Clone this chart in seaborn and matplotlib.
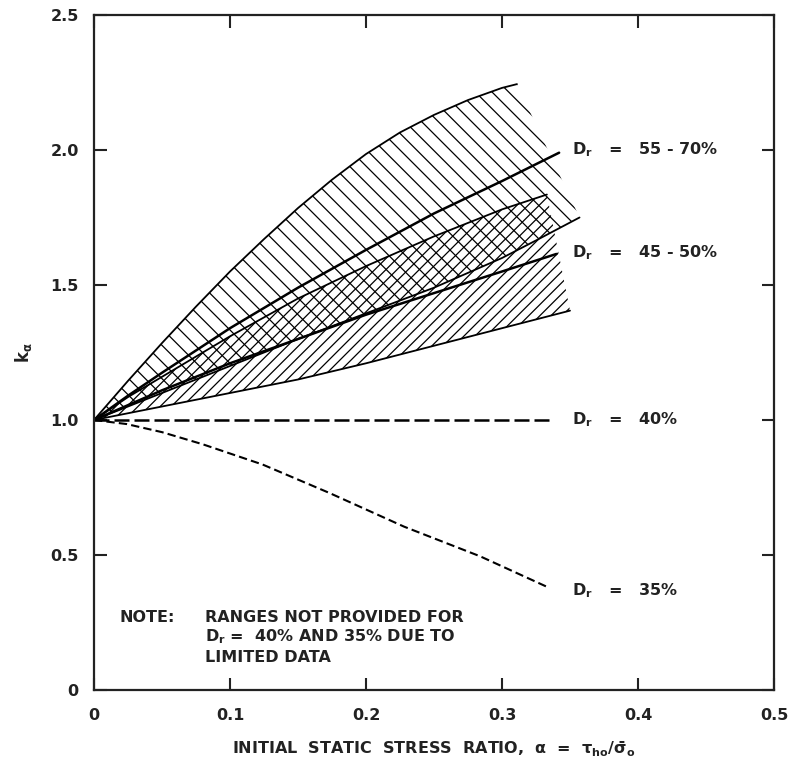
import numpy as np
import pandas as pd
import matplotlib
matplotlib.use("Agg")
import matplotlib.pyplot as plt
import seaborn as sns

# ---------------- data ----------------
# Dr = 55 - 70 % band
u1_x = [0.0, 0.025, 0.05, 0.075, 0.10, 0.125, 0.15, 0.175, 0.20, 0.225, 0.25, 0.275, 0.30, 0.311]
u1_y = [1.0, 1.145, 1.285, 1.42, 1.55, 1.67, 1.785, 1.89, 1.985, 2.065, 2.13, 2.185, 2.23, 2.244]
m1_x = [0.0, 0.025, 0.05, 0.10, 0.15, 0.20, 0.25, 0.30, 0.342]
m1_y = [1.0, 1.09, 1.175, 1.34, 1.49, 1.63, 1.765, 1.885, 1.99]
l1_x = [0.0, 0.05, 0.10, 0.15, 0.20, 0.25, 0.30, 0.325, 0.357]
l1_y = [1.0, 1.10, 1.20, 1.30, 1.395, 1.49, 1.60, 1.665, 1.75]

# Dr = 45 - 50 % band
u2_x = [0.0, 0.025, 0.05, 0.10, 0.15, 0.20, 0.25, 0.30, 0.333]
u2_y = [1.0, 1.085, 1.16, 1.31, 1.45, 1.57, 1.68, 1.78, 1.835]
m2_x = [0.0, 0.05, 0.10, 0.15, 0.20, 0.25, 0.30, 0.34]
m2_y = [1.0, 1.11, 1.21, 1.30, 1.39, 1.47, 1.55, 1.615]
l2_x = [0.0, 0.05, 0.10, 0.15, 0.20, 0.25, 0.30, 0.35]
l2_y = [1.0, 1.05, 1.10, 1.15, 1.21, 1.275, 1.34, 1.405]

# Dr = 40 % and 35 % (single curves)
d40_x = [0.0, 0.336]
d40_y = [1.0, 1.0]
d35_x = [0.0, 0.024, 0.05, 0.08, 0.124, 0.173, 0.228, 0.284, 0.334]
d35_y = [1.0, 0.985, 0.955, 0.91, 0.835, 0.73, 0.605, 0.495, 0.38]

x_ticks = [0, 0.1, 0.2, 0.3, 0.4, 0.5]
x_tick_labels = ["0", "0.1", "0.2", "0.3", "0.4", "0.5"]
y_ticks = [0, 0.5, 1.0, 1.5, 2.0, 2.5]
y_tick_labels = ["0", "0.5", "1.0", "1.5", "2.0", "2.5"]

band_labels = [r"D$_\mathregular{r}$   =   55 - 70%", r"D$_\mathregular{r}$   =   45 - 50%",
               r"D$_\mathregular{r}$   =   40%", r"D$_\mathregular{r}$   =   35%"]
band_label_y = [2.0, 1.62, 1.0, 0.367]

note_lines = ["RANGES NOT PROVIDED FOR",
              r"D$_\mathregular{r}$ =  40% AND 35% DUE TO",
              "LIMITED DATA"]

# ---------------- style ----------------
sns.set_theme(style="ticks")
plt.rcParams['font.family'] = ['DejaVu Sans']
plt.rcParams['font.weight'] = 'bold'
plt.rcParams['mathtext.default'] = 'regular'
plt.rcParams['hatch.linewidth'] = 0.9
plt.rcParams['hatch.color'] = 'black'

TXT = '#222222'

fig = plt.figure(figsize=(7.93, 7.61), dpi=100)
fig.patch.set_facecolor('white')
ax = fig.add_axes([94 / 793, 1 - 690 / 761, (774 - 94) / 793, (690 - 15) / 761])
ax.set_facecolor('white')

# hatched bands (overlap gives the cross-hatching)
ax.fill(u1_x + l1_x[::-1], u1_y + l1_y[::-1], facecolor='none',
        edgecolor='black', hatch='\\\\', linewidth=0)
ax.fill(u2_x + l2_x[::-1], u2_y + l2_y[::-1], facecolor='none',
        edgecolor='black', hatch='///', linewidth=0)

# boundary and mean lines
for xs, ys, lw in [(u1_x, u1_y, 1.3), (l1_x, l1_y, 1.3), (m1_x, m1_y, 1.8),
                   (u2_x, u2_y, 1.3), (l2_x, l2_y, 1.3), (m2_x, m2_y, 1.8)]:
    sns.lineplot(x=xs, y=ys, ax=ax, color='black', lw=lw, sort=False, estimator=None)

sns.lineplot(x=d40_x, y=d40_y, ax=ax, color='black', lw=1.8, sort=False, estimator=None)
ax.lines[-1].set_dashes((6, 2))
sns.lineplot(x=d35_x, y=d35_y, ax=ax, color='black', lw=1.5, sort=False, estimator=None)
ax.lines[-1].set_dashes((4, 2))

# labels at the right end of each curve
for lab, yy in zip(band_labels, band_label_y):
    ax.text(0.3515, yy, lab, fontsize=11.5, fontweight='bold', va='center', ha='left', color=TXT)

# note
ax.text(0.019, 0.27, "NOTE:", fontsize=11.5, fontweight='bold', va='center', ha='left', color=TXT)
for i, line in enumerate(note_lines):
    ax.text(0.0816, 0.27 - i * 0.074, line, fontsize=11.5, fontweight='bold',
            va='center', ha='left', color=TXT)

# axes
ax.set_xlim(0, 0.5)
ax.set_ylim(0, 2.5)
ax.set_xticks(x_ticks)
ax.set_xticklabels(x_tick_labels, fontweight='bold')
ax.set_yticks(y_ticks)
ax.set_yticklabels(y_tick_labels, fontweight='bold')
ax.tick_params(direction='in', length=9, width=1.5, top=True, right=True,
               labelsize=11.5, colors=TXT)
ax.tick_params(axis='x', pad=13)
ax.tick_params(axis='y', pad=11)
for s in ax.spines.values():
    s.set_linewidth(1.6)
    s.set_color('#222222')

ax.set_xlabel(r"INITIAL  STATIC  STRESS  RATIO,  $\alpha$  =  $\tau_{ho}/\bar{\sigma}_o$",
              fontsize=11.5, fontweight='bold', labelpad=12, color=TXT)
ax.set_ylabel(r"k$_\alpha$", fontsize=12, fontweight='bold', labelpad=12, color=TXT)

fig.savefig("out.png", dpi=100, facecolor='white')
